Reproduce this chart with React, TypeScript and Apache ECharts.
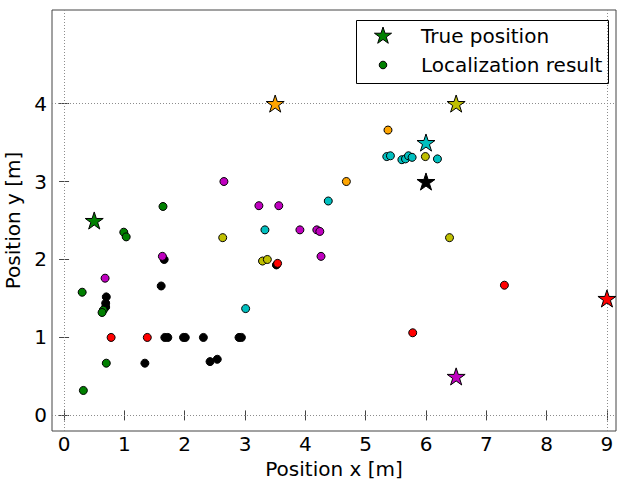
import React, { useEffect, useRef } from "react";
import * as echarts from "echarts";

// True positions of the targets (one per colour group)
const targetNames = ["black", "green", "red", "magenta", "cyan", "yellow", "orange"];
const trueX = [6, 0.5, 9, 6.5, 6, 6.5, 3.5];
const trueY = [3, 2.5, 1.5, 0.5, 3.5, 4, 4];

// Localization results per target
const resultsBlack: [number, number][] = [
  [0.7, 1.52], [0.69, 1.44], [0.69, 1.39], [1.61, 1.66], [1.66, 2.0], [3.52, 1.93],
  [1.67, 1.0], [1.72, 1.0], [1.98, 1.0], [2.01, 1.0], [2.31, 1.0], [2.9, 1.0], [2.94, 1.0],
  [1.34, 0.67], [2.42, 0.69], [2.54, 0.72],
];
const resultsGreen: [number, number][] = [
  [0.99, 2.35], [1.03, 2.29], [1.64, 2.68], [0.3, 1.58], [0.65, 1.35], [0.63, 1.32],
  [0.7, 0.67], [0.32, 0.32],
];
const resultsRed: [number, number][] = [
  [0.78, 1.0], [1.38, 1.0], [3.54, 1.95], [7.3, 1.67], [5.78, 1.06],
];
const resultsMagenta: [number, number][] = [
  [2.65, 3.0], [3.23, 2.69], [3.56, 2.69], [0.68, 1.76], [1.63, 2.04], [3.91, 2.38],
  [4.19, 2.38], [4.24, 2.36], [4.26, 2.04],
];
const resultsCyan: [number, number][] = [
  [4.38, 2.75], [3.33, 2.38], [3.01, 1.37], [5.35, 3.32], [5.41, 3.33], [5.6, 3.28],
  [5.66, 3.29], [5.71, 3.33], [5.77, 3.31], [6.19, 3.29],
];
const resultsYellow: [number, number][] = [
  [2.63, 2.28], [3.29, 1.98], [3.37, 2.0], [6.39, 2.28], [5.99, 3.32],
];
const resultsOrange: [number, number][] = [
  [5.37, 3.66], [4.68, 3.0],
];

const xTicks = [0, 1, 2, 3, 4, 5, 6, 7, 8, 9];
const yTicks = [0, 1, 2, 3, 4];
const boundaryX = [0, 9];
const boundaryY = [0, 4];

const colorMap: Record<string, string> = {
  black: "#000000",
  green: "#008000",
  red: "#ff0000",
  magenta: "#bf00bf",
  cyan: "#00bfbf",
  yellow: "#bfbf00",
  orange: "#ffa500",
};

const resultsByTarget: Record<string, [number, number][]> = {
  black: resultsBlack,
  green: resultsGreen,
  red: resultsRed,
  magenta: resultsMagenta,
  cyan: resultsCyan,
  yellow: resultsYellow,
  orange: resultsOrange,
};

function starPoints(cx: number, cy: number, r: number): number[][] {
  const pts: number[][] = [];
  for (let i = 0; i < 10; i++) {
    const rr = i % 2 === 0 ? r : r * 0.382;
    const a = -Math.PI / 2 + (i * Math.PI) / 5;
    pts.push([cx + rr * Math.cos(a), cy + rr * Math.sin(a)]);
  }
  return pts;
}

const starPath =
  "path://M" +
  starPoints(0, 0, 1)
    .map((p) => p[0].toFixed(4) + "," + p[1].toFixed(4))
    .join("L") +
  "Z";

const FONT = "DejaVu Sans";

export default function App() {
  const ref = useRef<HTMLDivElement>(null);
  useEffect(() => {
    if (!ref.current) return;
    const chart = echarts.init(ref.current, null, { renderer: "svg" });

    const resultData: any[] = [];
    targetNames.forEach((name) => {
      resultsByTarget[name].forEach((p) => {
        resultData.push({
          value: p,
          itemStyle: { color: colorMap[name] },
        });
      });
    });
    const trueData = targetNames.map((name, i) => ({
      value: [trueX[i], trueY[i]],
      itemStyle: { color: colorMap[name] },
    }));

    const axisCommon = {
      type: "value" as const,
      splitLine: { show: false },
      axisLine: { show: false },
    };

    chart.setOption({
      animation: false,
      grid: {
        left: 52,
        top: 10,
        right: 1,
        bottom: 49,
        containLabel: false,
        outerBoundsMode: "none",
        show: true,
        borderColor: "#444",
        borderWidth: 1,
        backgroundColor: "transparent",
      },
      xAxis: [
        {
          ...axisCommon,
          min: -0.2,
          max: 9.15,
          position: "bottom",
          name: "Position x [m]",
          nameLocation: "middle",
          nameGap: 27,
          nameTextStyle: { fontFamily: FONT, fontSize: 20, color: "#000" },
          axisTick: { show: true, inside: true, length: 5, lineStyle: { color: "#444" }, customValues: xTicks },
          axisLabel: { show: true, margin: 3, fontFamily: FONT, fontSize: 20, color: "#000", customValues: xTicks },
        },
        {
          ...axisCommon,
          min: -0.2,
          max: 9.15,
          position: "top",
          axisTick: { show: true, inside: true, length: 5, lineStyle: { color: "#444" }, customValues: xTicks },
          axisLabel: { show: false, customValues: xTicks },
        },
      ],
      yAxis: [
        {
          ...axisCommon,
          min: -0.2,
          max: 5.2,
          position: "left",
          name: "Position y [m]",
          nameLocation: "middle",
          nameGap: 23,
          nameTextStyle: { fontFamily: FONT, fontSize: 20, color: "#000" },
          axisTick: { show: true, inside: true, length: 5, lineStyle: { color: "#444" }, customValues: yTicks },
          axisLabel: { show: true, margin: 5, fontFamily: FONT, fontSize: 20, color: "#000", customValues: yTicks },
        },
        {
          ...axisCommon,
          min: -0.2,
          max: 5.2,
          position: "right",
          axisTick: { show: true, inside: true, length: 5, lineStyle: { color: "#444" }, customValues: yTicks },
          axisLabel: { show: false, customValues: yTicks },
        },
      ],
      series: [
        {
          type: "scatter",
          name: "boundary",
          data: [],
          silent: true,
          markLine: {
            silent: true,
            symbol: "none",
            label: { show: false },
            lineStyle: { color: "#8c8c8c", width: 1, type: [1, 2] },
            data: [
              ...boundaryX.map((v) => ({ xAxis: v })),
              ...boundaryY.map((v) => ({ yAxis: v })),
            ],
            z: 1,
          },
        },
        {
          type: "scatter",
          name: "Localization result",
          symbol: "circle",
          symbolSize: 8,
          itemStyle: { color: "#008000", borderColor: "#000", borderWidth: 1, opacity: 1 },
          data: resultData,
          z: 3,
        },
        {
          type: "scatter",
          name: "True position",
          symbol: starPath,
          symbolSize: 18,
          symbolKeepAspect: true,
          itemStyle: { color: "#008000", borderColor: "#000", borderWidth: 1, opacity: 1 },
          data: trueData,
          z: 4,
        },
      ],
      graphic: [
        {
          type: "group",
          z: 100,
          children: [
            {
              type: "rect",
              shape: { x: 356.5, y: 20.5, width: 252, height: 63 },
              style: { fill: "#fff", stroke: "#000", lineWidth: 1 },
            },
            {
              type: "polygon",
              shape: { points: starPoints(383, 36, 9) },
              style: { fill: "#008000", stroke: "#000", lineWidth: 1 },
            },
            {
              type: "circle",
              shape: { cx: 383, cy: 65, r: 3.8 },
              style: { fill: "#008000", stroke: "#000", lineWidth: 1 },
            },
            {
              type: "text",
              x: 421,
              y: 36,
              style: {
                text: "True position",
                fontFamily: FONT,
                fontSize: 20,
                fill: "#000",
                verticalAlign: "middle",
                align: "left",
              },
            },
            {
              type: "text",
              x: 421,
              y: 65,
              style: {
                text: "Localization result",
                fontFamily: FONT,
                fontSize: 20,
                fill: "#000",
                verticalAlign: "middle",
                align: "left",
              },
            },
          ],
        },
      ],
    });
    return () => chart.dispose();
  }, []);

  return (
    <div
      ref={ref}
      style={{ position: "fixed", left: 0, top: 0, width: 617, height: 480, background: "#fff" }}
    />
  );
}
